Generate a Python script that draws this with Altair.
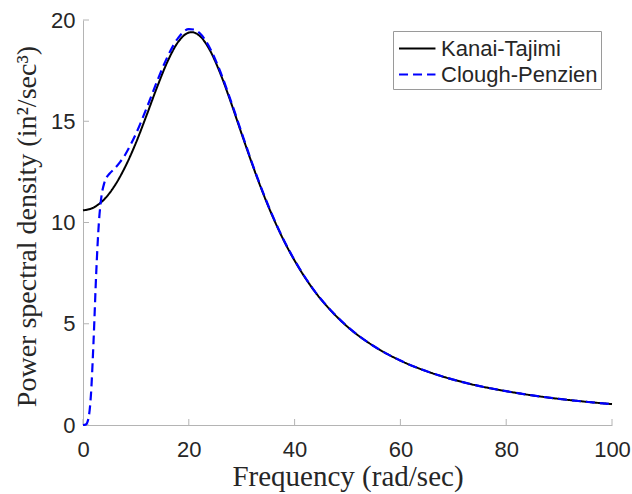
import altair as alt
import pandas as pd

# Kanai-Tajimi spectrum
kt_freq = [0, 2, 4, 6, 8, 10, 12, 14, 16, 18, 20, 20.5, 21, 22, 24, 26, 28, 30, 32, 35,
           38, 41, 44, 47, 50, 55, 60, 65, 70, 75, 80, 85, 90, 95, 100]
kt_psd = [10.60, 10.74, 11.14, 11.82, 12.76, 13.93, 15.28, 16.68, 17.96, 18.92, 19.38, 19.40,
          19.38, 19.23, 18.50, 17.33, 15.90, 14.37, 12.87, 10.82, 9.09, 7.68, 6.53, 5.61,
          4.85, 3.89, 3.18, 2.65, 2.24, 1.92, 1.67, 1.46, 1.29, 1.15, 1.03]

# Clough-Penzien spectrum
cp_freq = [0, 0.5, 1, 1.5, 2, 2.5, 3, 3.5, 4, 4.5, 5, 6, 7, 8, 9, 10, 12, 14, 16, 18, 20, 21,
           22, 24, 26, 28, 30, 32, 35, 38, 41, 44, 47, 50, 55, 60, 65, 70, 75, 80, 85, 90, 95, 100]
cp_psd = [0.0, 0.02, 0.29, 1.49, 4.18, 7.51, 9.98, 11.31, 11.93, 12.24, 12.41, 12.67, 12.98,
          13.36, 13.84, 14.38, 15.63, 16.97, 18.20, 19.12, 19.55, 19.53, 19.37, 18.61, 17.42,
          15.97, 14.43, 12.91, 10.85, 9.11, 7.70, 6.54, 5.62, 4.86, 3.89, 3.18, 2.65, 2.24,
          1.92, 1.67, 1.46, 1.29, 1.15, 1.03]

series_names = ["Kanai-Tajimi", "Clough-Penzien"]
series_colors = ["#000000", "#0000ff"]
series_dash = [[1, 0], [9, 5]]

x_ticks = [0, 20, 40, 60, 80, 100]
y_ticks = [0, 5, 10, 15, 20]

kt_df = pd.DataFrame({"freq": kt_freq, "psd": kt_psd, "series": series_names[0]})
cp_df = pd.DataFrame({"freq": cp_freq, "psd": cp_psd, "series": series_names[1]})
xt_df = pd.DataFrame({"t": x_ticks})
yt_df = pd.DataFrame({"t": y_ticks})

AX_GRAY = "#b4b4b4"
TXT = "#262626"

x_scale = alt.Scale(domain=[0, 100], nice=False, zero=False)
y_scale = alt.Scale(domain=[0, 20], nice=False, zero=False)

x_axis = alt.Axis(
    values=x_ticks, ticks=False, grid=False, domainColor=AX_GRAY, domainWidth=1,
    labelFont="Liberation Sans", labelFontSize=22, labelColor=TXT,
    labelBaseline="alphabetic", labelPadding=31, labelFlush=False,
    title="Frequency (rad/sec)", titleFont="Liberation Serif", titleFontSize=29,
    titleFontWeight="normal", titleColor=TXT, titleBaseline="alphabetic",
    titleAnchor="middle", titleY=60,
)
y_axis = alt.Axis(
    values=y_ticks, ticks=False, grid=False, domainColor=AX_GRAY, domainWidth=1,
    labelFont="Liberation Sans", labelFontSize=22, labelColor=TXT,
    labelPadding=8, labelFlush=False,
    title="Power spectral density (in²/sec³)", titleFont="Liberation Serif",
    titleFontSize=28, titleFontWeight="normal", titleColor=TXT,
    titleBaseline="alphabetic", titleAngle=270, titleX=-48, titleY=206,
    titleAnchor="middle",
)

color_enc = alt.Color(
    "series:N",
    scale=alt.Scale(domain=series_names, range=series_colors),
    legend=alt.Legend(
        title=None, orient="none", legendX=310, legendY=11,
        symbolType="M-0.85,0H1.85", symbolSize=729, symbolStrokeWidth=2,
        labelFont="Liberation Sans", labelFontSize=22, labelColor=TXT,
        labelOffset=16, rowPadding=0, padding=3,
        strokeColor="#9a9a9a", fillColor="white", labelLimit=300,
    ),
)
dash_enc = alt.StrokeDash(
    "series:N",
    scale=alt.Scale(domain=series_names, range=series_dash),
    legend=None,
)

kt_line = alt.Chart(kt_df).mark_line(strokeWidth=2, interpolate="monotone").encode(
    x=alt.X("freq:Q", scale=x_scale, axis=x_axis),
    y=alt.Y("psd:Q", scale=y_scale, axis=y_axis),
    color=color_enc,
    strokeDash=dash_enc,
)
cp_line = alt.Chart(cp_df).mark_line(strokeWidth=2.2, interpolate="monotone").encode(
    x=alt.X("freq:Q", scale=x_scale),
    y=alt.Y("psd:Q", scale=y_scale),
    color=color_enc,
    strokeDash=dash_enc,
)

x_tick_marks = alt.Chart(xt_df).mark_rule(color=AX_GRAY, strokeWidth=1).encode(
    x=alt.X("t:Q", scale=x_scale),
    y=alt.value(405),
    y2=alt.value(399),
)
y_tick_marks = alt.Chart(yt_df).mark_rule(color=AX_GRAY, strokeWidth=1).encode(
    y=alt.Y("t:Q", scale=y_scale),
    x=alt.value(0),
    x2=alt.value(6),
)

chart = alt.layer(x_tick_marks, y_tick_marks, kt_line, cp_line).properties(
    width=529,
    height=405,
    padding={"left": 83, "top": 20, "right": 20, "bottom": 69},
    autosize=alt.AutoSizeParams(type="none"),
    background="white",
).configure_view(stroke=None)

chart.save("out.html", embed_options={"renderer": "svg", "actions": False})
